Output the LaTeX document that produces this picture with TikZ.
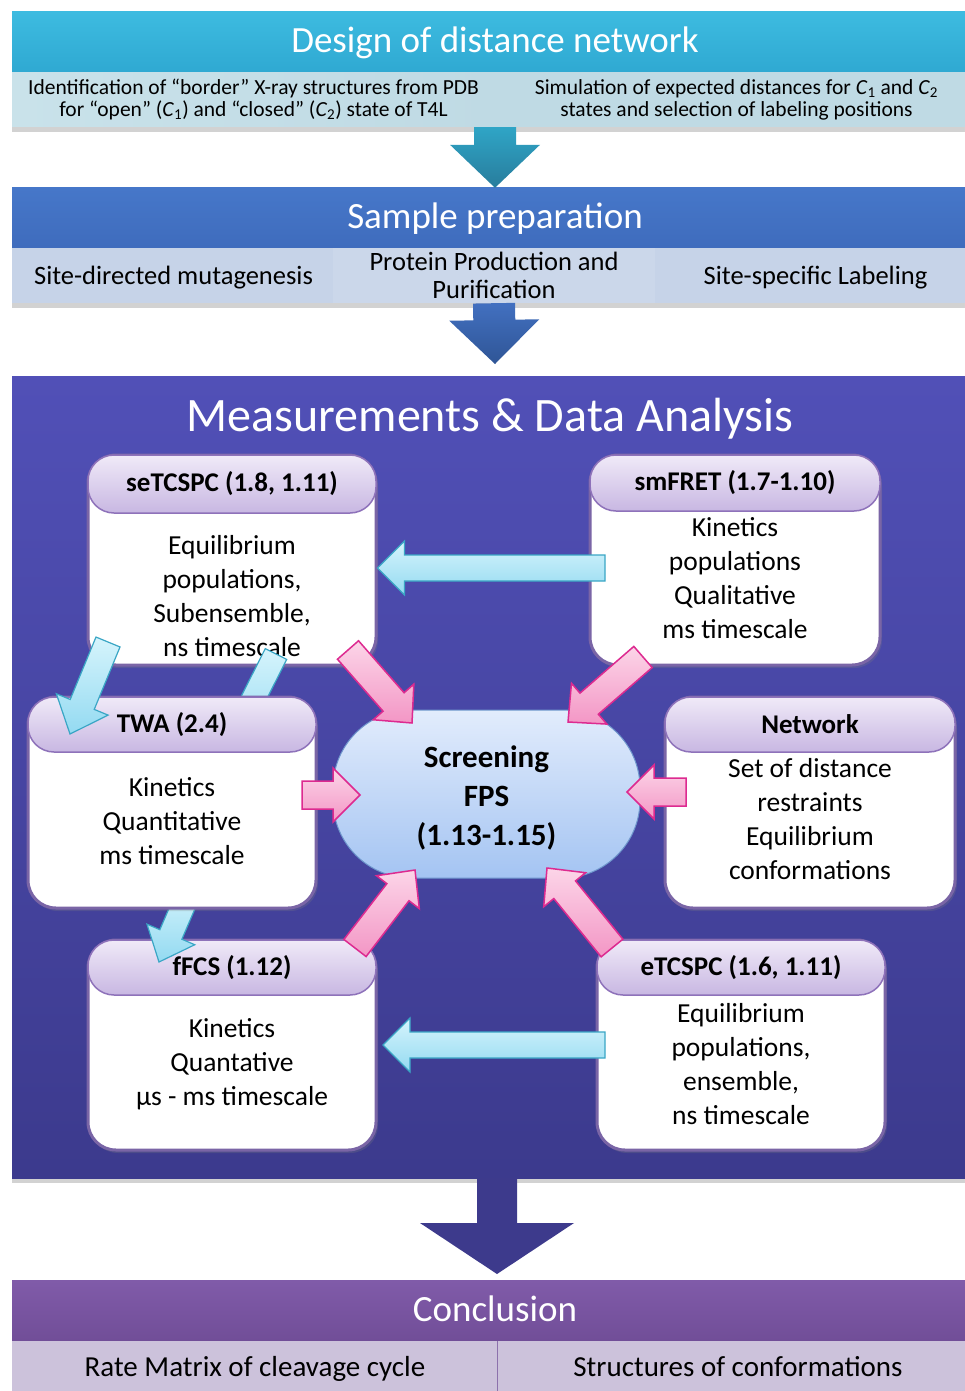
\documentclass[tikz,border=0pt]{standalone}
\usepackage{fontspec}
\setmainfont{Carlito}
\usetikzlibrary{calc,shadows}

\definecolor{dnHeadTop}{HTML}{3DBBE0}
\definecolor{dnHeadBot}{HTML}{2FA9D2}
\definecolor{dnRowL}{HTML}{C9E2EA}
\definecolor{dnRowR}{HTML}{BFDAE4}
\definecolor{spHeadTop}{HTML}{4677C9}
\definecolor{spHeadBot}{HTML}{3F6CBD}
\definecolor{spRow}{HTML}{C6D3E8}
\definecolor{panelTop}{HTML}{5150B7}
\definecolor{panelBot}{HTML}{3C3A8D}
\definecolor{coHeadTop}{HTML}{805BA9}
\definecolor{coHeadBot}{HTML}{714E98}
\definecolor{coRow}{HTML}{CCC2DB}
\definecolor{boxLine}{HTML}{7A65A6}
\definecolor{capTop}{HTML}{F0EAF8}
\definecolor{capBot}{HTML}{C8B7E2}
\definecolor{capLine}{HTML}{8E72BA}
\definecolor{cyanTop}{HTML}{D6F4FC}
\definecolor{cyanBot}{HTML}{93DAF1}
\definecolor{cyanLine}{HTML}{3AA6C5}
\definecolor{pinkTop}{HTML}{FCD5E8}
\definecolor{pinkBot}{HTML}{F396C5}
\definecolor{pinkLine}{HTML}{DD2A90}
\definecolor{fpsTop}{HTML}{E2ECFC}
\definecolor{fpsBot}{HTML}{A4C4F2}
\definecolor{fpsLine}{HTML}{6E96CC}
\definecolor{arrOneTop}{HTML}{2FA5C6}
\definecolor{arrOneBot}{HTML}{287C9C}
\definecolor{arrTwoTop}{HTML}{4270C0}
\definecolor{arrTwoBot}{HTML}{2F5596}
\definecolor{arrThree}{HTML}{3D3A8C}

% block arrow: style, start, tip, shaft half width, head half width, head length
\newcommand{\blockarrow}[6]{%
  \coordinate (ba-h) at ($(#3)!#6!(#2)$);
  \path[#1] ($(#2)!#4!90:(#3)$) -- ($(ba-h)!#4!90:(#3)$) -- ($(ba-h)!#5!90:(#3)$)
    -- (#3) -- ($(ba-h)!#5!-90:(#3)$) -- ($(ba-h)!#4!-90:(#3)$) -- ($(#2)!#4!-90:(#3)$) -- cycle;}

\tikzset{
  band/.style={rectangle, inner sep=0pt},
  bandtext/.style={anchor=base, inner sep=0pt, text=white, font=\fontsize{37}{44}\selectfont},
  cell/.style={rectangle, inner sep=0pt, align=center, text=black},
  celltext/.style={anchor=base, inner sep=0pt, text=black},
  bandshadow/.style={drop shadow={opacity=0.35, shadow xshift=0pt, shadow yshift=-5pt}},
  mbox/.style={rectangle, draw=boxLine, line width=3pt, fill=white, rounded corners=28pt,
    drop shadow={opacity=0.25, shadow xshift=2pt, shadow yshift=-3pt}},
  mcap/.style={rectangle, draw=capLine, line width=1.5pt, top color=capTop, bottom color=capBot,
    rounded corners=26pt, inner sep=0pt, font=\bfseries\fontsize{27}{32}\selectfont},
  mtext/.style={align=center, inner sep=0pt, font=\fontsize{27.5}{34}\selectfont},
  fps/.style={rectangle, draw=fpsLine, line width=1pt, top color=fpsTop, bottom color=fpsBot,
    rounded corners=78pt, align=center, inner sep=0pt, font=\bfseries\fontsize{31}{39}\selectfont},
  cyanarrow/.style={draw=cyanLine, line width=1.2pt, top color=cyanTop, bottom color=cyanBot, line join=miter},
  pinkarrow/.style={draw=pinkLine, line width=1.5pt, top color=pinkTop, bottom color=pinkBot, line join=miter},
}

\begin{document}
\begin{tikzpicture}[x=1pt,y=-1pt]
\useasboundingbox (0,0) rectangle (964,1391);
\fill[white] (0,0) rectangle (964,1391);

% ---- Design of distance network
\node[cell, bandshadow, left color=dnRowL, right color=dnRowR, minimum width=483, minimum height=55,
  font=\fontsize{21.5}{22}\selectfont] (dnL) at (253.5,99.5)
  {Identification of “border” X-ray structures from PDB\\for “open” (\textit{C}\textsubscript{1}) and “closed” (\textit{C}\textsubscript{2}) state of T4L};
\node[cell, bandshadow, fill=dnRowR, minimum width=483, minimum height=55,
  font=\fontsize{21.5}{22}\selectfont] (dnR) at (736.5,99.5)
  {Simulation of expected distances for \textit{C}\textsubscript{1} and \textit{C}\textsubscript{2}\\states and selection of labeling positions};
\node[band, top color=dnHeadTop, bottom color=dnHeadBot, minimum width=966, minimum height=60] (dn) at (495,42) {};
\node[bandtext] (dnT) at (495,53) {Design of distance network};

% ---- Sample preparation
\node[cell, bandshadow, fill=spRow, minimum width=321, minimum height=56] (spA) at (172.5,275) {};
\node[cell, bandshadow, fill=spRow!92!white, minimum width=322, minimum height=56,
  font=\fontsize{26.5}{28}\selectfont] (spB) at (494,275) {Protein Production and\\Purification};
\node[cell, bandshadow, fill=spRow, minimum width=323, minimum height=56] (spC) at (816.5,275) {};
\node[celltext, font=\fontsize{26.5}{28}\selectfont] (spAT) at (173.5,284) {Site-directed mutagenesis};
\node[celltext, font=\fontsize{26.5}{28}\selectfont] (spCT) at (815.5,284) {Site-specific Labeling};
\node[band, top color=spHeadTop, bottom color=spHeadBot, minimum width=966, minimum height=59] (sp) at (495,217.5) {};
\node[bandtext] (spT) at (495,228) {Sample preparation};

% ---- Measurements & Data Analysis panel
\node[rectangle, bandshadow, top color=panelTop, bottom color=panelBot, minimum width=966, minimum height=802] (meas) at (495,777) {};
\node[anchor=base, text=white, inner sep=0pt, font=\fontsize{48}{56}\selectfont] (measT) at (490,431) {Measurements \& Data Analysis};

% ---- Conclusion
\node[cell, fill=coRow, minimum width=485, minimum height=56] (coA) at (254.5,1368) {};
\node[cell, fill=coRow, minimum width=481, minimum height=56] (coB) at (737.5,1368) {};
\draw[coHeadBot!70!coRow, line width=1pt] (coA.north east) -- (coA.south east);
\node[celltext, font=\fontsize{29}{32}\selectfont] (coAT) at (255,1376) {Rate Matrix of cleavage cycle};
\node[celltext, font=\fontsize{29}{32}\selectfont] (coBT) at (738,1376) {Structures of conformations};
\node[band, top color=coHeadTop, bottom color=coHeadBot, minimum width=966, minimum height=60] (co) at (495,1310) {};
\node[bandtext] (coT) at (495,1321) {Conclusion};

% ---- stage arrows
\coordinate (a1s) at (dnL.south -| 495,0);
\coordinate (a1e) at (sp.north -| 495,0);
\blockarrow{top color=arrOneTop, bottom color=arrOneBot}{a1s}{a1e}{21pt}{45pt}{43pt}
\coordinate (a2s) at (spB.south);
\coordinate (a2e) at (495,364);
\blockarrow{top color=arrTwoTop, bottom color=arrTwoBot}{a2s}{a2e}{21pt}{45pt}{44pt}
\coordinate (a3s) at (meas.south -| 497,0);
\coordinate (a3e) at (497,1274);
\blockarrow{fill=arrThree}{a3s}{a3e}{20pt}{77pt}{51pt}

% ---- method boxes
\node[mbox, minimum width=288, minimum height=210] (setc) at (232,560) {};
\node[mcap, minimum width=288, minimum height=58] (setcH) at (232,484) {seTCSPC (1.8, 1.11)};
\node[mtext] (setcT) at (232,596) {Equilibrium\\populations,\\Subensemble,\\ns timescale};

\node[mbox, minimum width=290, minimum height=210] (smf) at (735,560) {};
\node[mcap, minimum width=290, minimum height=56] (smfH) at (735,483) {smFRET (1.7-1.10)};
\node[mtext] (smfT) at (735,578) {Kinetics\\populations\\Qualitative\\ms timescale};

\node[mbox, minimum width=290, minimum height=211] (net) at (810,802.5) {};
\node[mcap, minimum width=290, minimum height=55] (netH) at (810,724.5) {Network};
\node[mtext] (netT) at (810,819) {Set of distance\\restraints\\Equilibrium\\conformations};

\node[mbox, minimum width=288, minimum height=210] (ffcs) at (232,1045) {};
\node[mcap, minimum width=288, minimum height=55] (ffcsH) at (232,967.5) {fFCS (1.12)};
\node[mtext] (ffcsT) at (232,1064) {Kinetics\\Quantative\\µs - ms timescale};

\node[mbox, minimum width=288, minimum height=210] (etc) at (741,1045) {};
\node[mcap, minimum width=288, minimum height=55] (etcH) at (741,967.5) {eTCSPC (1.6, 1.11)};
\node[mtext] (etcT) at (741,1064) {Equilibrium\\populations,\\ensemble,\\ns timescale};

\node[fps, minimum width=307, minimum height=168] (scr) at (486.5,794) {};
\node[align=center, inner sep=0pt, font=\bfseries\fontsize{31}{39}\selectfont] (scrT) at (486.5,798) {Screening\\FPS\\(1.13-1.15)};

% ---- arrows that pass behind the TWA box
\coordinate (c5s) at (276,654);
\coordinate (c5e) at (230,745);
\blockarrow{cyanarrow}{c5s}{c5e}{12pt}{26pt}{30pt}
\coordinate (c4s) at (190,890);
\coordinate (c4e) at (159,962);
\blockarrow{cyanarrow}{c4s}{c4e}{12pt}{26pt}{30pt}

\node[mbox, minimum width=288, minimum height=211] (twa) at (172,802.5) {};
\node[mcap, minimum width=288, minimum height=55] (twaH) at (172,724.5) {TWA (2.4)};
\node[mtext] (twaT) at (172,821) {Kinetics\\Quantitative\\ms timescale};

% ---- cyan arrows between methods
\coordinate (c3s) at (108,642);
\coordinate (c3e) at (70,734);
\blockarrow{cyanarrow}{c3s}{c3e}{13pt}{28pt}{32pt}
\coordinate (c1s) at (605,568);
\coordinate (c1e) at (setc.east |- c1s);
\blockarrow{cyanarrow}{c1s}{c1e}{13pt}{27pt}{27pt}
\coordinate (c2s) at (605,1045);
\coordinate (c2e) at (383,1045);
\blockarrow{cyanarrow}{c2s}{c2e}{13pt}{27pt}{27pt}

% ---- pink arrows into the screening step
\coordinate (p1s) at (348,650);
\coordinate (p1e) at (412,723);
\blockarrow{pinkarrow}{p1s}{p1e}{14pt}{27pt}{28pt}
\coordinate (p2s) at (643,657);
\coordinate (p2e) at (568,722);
\blockarrow{pinkarrow}{p2s}{p2e}{14pt}{27pt}{28pt}
\coordinate (p3s) at (302,795);
\coordinate (p3e) at (360,795);
\blockarrow{pinkarrow}{p3s}{p3e}{14pt}{27pt}{27pt}
\coordinate (p4s) at (686,792);
\coordinate (p4e) at (627,792);
\blockarrow{pinkarrow}{p4s}{p4e}{14pt}{27pt}{27pt}
\coordinate (p5s) at (355,948);
\coordinate (p5e) at (415,870);
\blockarrow{pinkarrow}{p5s}{p5e}{14pt}{27pt}{28pt}
\coordinate (p6s) at (612,948);
\coordinate (p6e) at (547,868);
\blockarrow{pinkarrow}{p6s}{p6e}{14pt}{27pt}{28pt}
\end{tikzpicture}
\end{document}
